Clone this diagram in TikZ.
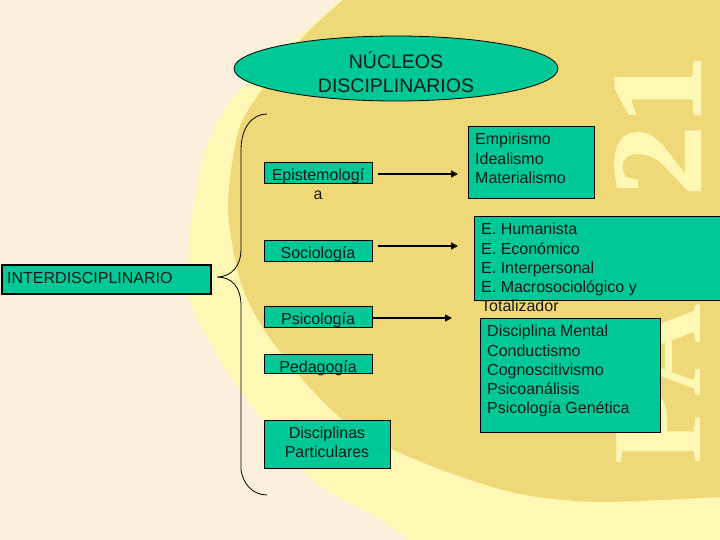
\documentclass[tikz,border=0pt]{standalone}
\usepackage{fontspec}
\setmainfont{Liberation Sans}
\newfontfamily\decofont{Liberation Serif}
\newfontfamily\decoheavy[FakeBold=1.6]{Liberation Serif}
\usetikzlibrary{shapes.geometric,arrows.meta}
\definecolor{creambg}{HTML}{FBF0DC}
\definecolor{paleyel}{HTML}{FFF8B4}
\definecolor{deepyel}{HTML}{EFD878}
\definecolor{tealbox}{HTML}{00C896}
\tikzset{
  x=1pt,y=-1pt,
  tbox/.style={draw=black,fill=tealbox,line width=0.8pt,inner sep=0pt,anchor=north west},
  lbl/.style={font=\fontsize{16}{19.3}\selectfont,color=black!90,inner sep=0pt},
  arr/.style={line width=1.5pt,-{Triangle[length=7pt,width=7pt]}},
  brace/.style={line width=0.8pt},
  deco/.style={color=paleyel,inner sep=0pt,rotate=90,anchor=base west}
}
\begin{document}
\begin{tikzpicture}
\useasboundingbox (0,0) rectangle (720,540);
\fill[creambg] (0,0) rectangle (720,540);
\fill[paleyel] plot[smooth] coordinates {(340,0) (247,83) (220,117) (203,160) (190,233) (190,297) (210,343) (242,393) (313,480) (370,513) (410,540)} -- (720,540) -- (720,0) -- cycle;
\fill[deepyel] plot[smooth] coordinates {(343,0) (303,37) (257,97) (238,133) (228,207) (240,280) (263,328) (303,380) (343,420) (390,448) (450,473) (520,494) (600,502) (720,497)} -- (720,0) -- cycle;
\node[deco,font=\decoheavy\bfseries\fontsize{128}{128}\selectfont] (d21) at (700,196) {\scalebox{1.1}[1]{21}};
\node[deco,font=\decofont\bfseries\fontsize{128}{128}\selectfont] (dpa) at (700,465) {PA};
\node[draw=black,fill=tealbox,ellipse,line width=0.8pt,minimum width=324pt,minimum height=65pt,inner sep=0pt] (title) at (396,68.5) {};
\node[lbl,font=\fontsize{19.5}{24}\selectfont,align=center] (titlet) at (396,72) {NÚCLEOS\\DISCIPLINARIOS};
\node[tbox,minimum width=108pt,minimum height=21pt] (epi) at (264,162) {};
\node[lbl,align=center] (epit) at (318,184) {Epistemologí\\a};
\node[tbox,minimum width=108pt,minimum height=21pt] (soc) at (264,240) {};
\node[lbl] (soct) at (318,254.5) {Sociología};
\node[tbox,minimum width=108pt,minimum height=21pt] (psi) at (264,306) {};
\node[lbl] (psit) at (318,320.5) {Psicología};
\node[tbox,minimum width=108pt,minimum height=19pt] (ped) at (264,354) {};
\node[lbl] (pedt) at (318,368.5) {Pedagogía};
\node[tbox,minimum width=126pt,minimum height=48pt] (par) at (264,420) {};
\node[lbl,align=center] (part) at (327,442.5) {Disciplinas\\Particulares};
\node[tbox,draw=black,line width=2.4pt,minimum width=209pt,minimum height=29pt] (inter) at (1,264) {};
\node[lbl,anchor=west] (intert) at (7,277.5) {INTERDISCIPLINARIO};
\node[tbox,minimum width=126pt,minimum height=72pt] (emp) at (468,126) {};
\node[lbl,anchor=north west,align=left] (empt) at (475,133) {Empirismo\\Idealismo\\Materialismo};
\node[tbox,minimum width=260pt,minimum height=84pt] (hum) at (474,216) {};
\node[lbl,anchor=north west,align=left] (humt) at (481,223) {E. Humanista\\E. Económico\\E. Interpersonal\\E. Macrosociológico y\\Totalizador};
\node[tbox,minimum width=180pt,minimum height=114pt] (dis) at (480,318) {};
\node[lbl,anchor=north west,align=left] (dist) at (487,325) {Disciplina Mental\\Conductismo\\Cognoscitivismo\\Psicoanálisis\\Psicología Genética};
\coordinate (a1s) at (378,174); \coordinate (a1e) at (458,174);
\coordinate (a2s) at (378,246); \coordinate (a2e) at (458,246);
\coordinate (a3e) at (452,318);
\draw[arr] (a1s) -- (a1e);
\draw[arr] (a2s) -- (a2e);
\draw[arr] (psi.east |- a3e) -- (a3e);
\coordinate (btop) at (267,114);
\coordinate (bmid) at (217,277);
\coordinate (bbot) at (267,495);
\draw[brace] (btop) .. controls (252,114) and (241,128) .. (241,150) -- (241,250) .. controls (241,265) and (232,277) .. (bmid) .. controls (232,277) and (241,287) .. (241,306) -- (241,470) .. controls (243,483) and (252,495) .. (bbot);
\end{tikzpicture}
\end{document}
